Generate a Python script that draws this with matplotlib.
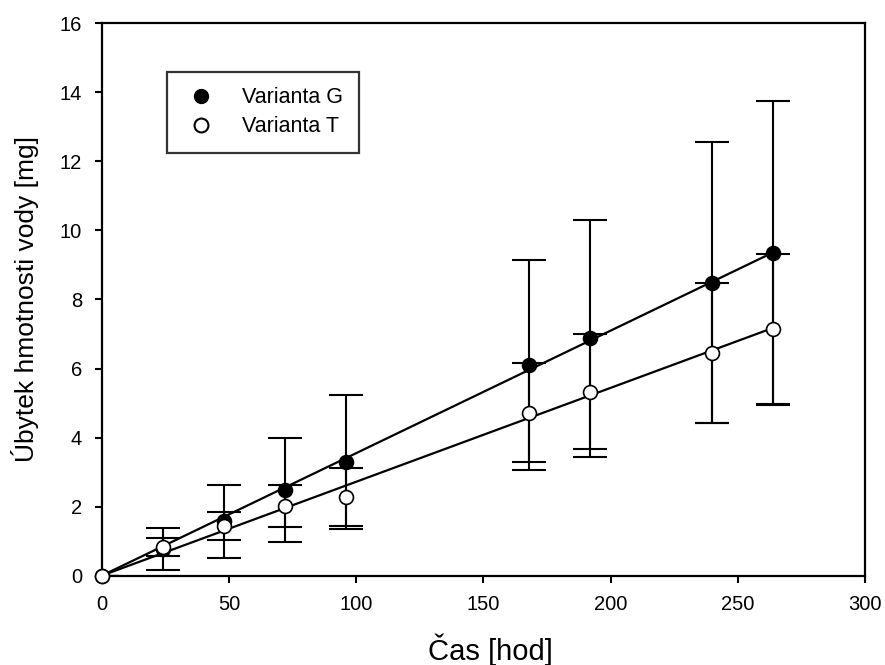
import numpy as np
import matplotlib
matplotlib.use('Agg')
import matplotlib.pyplot as plt
from matplotlib.lines import Line2D

plt.rcParams['font.family'] = ['Liberation Sans', 'DejaVu Sans']

# time [h]
cas = [0, 24, 48, 72, 96, 168, 192, 240, 264]

# Varianta G
g_mean = [0.0, 0.77, 1.57, 2.49, 3.30, 6.10, 6.87, 8.49, 9.35]
g_err = [0.0, 0.60, 1.06, 1.50, 1.94, 3.05, 3.44, 4.07, 4.40]

# Varianta T
t_mean = [0.0, 0.83, 1.44, 2.02, 2.28, 4.72, 5.33, 6.45, 7.14]
t_err = [0.0, 0.26, 0.41, 0.61, 0.83, 1.44, 1.67, 2.03, 2.17]

labels = ['Varianta G', 'Varianta T']


def fit_line(x, y):
    # linear regression through origin
    x = np.asarray(x, float)
    y = np.asarray(y, float)
    k = (x * y).sum() / (x * x).sum()
    xs = np.array([x.min(), x.max()])
    return xs, k * xs


fig = plt.figure(figsize=(8.85, 6.65), dpi=100)
ax = fig.add_axes([0.1149, 0.1343, 0.8625, 0.8307])

for mean, err in [(t_mean, t_err), (g_mean, g_err)]:
    ax.errorbar(cas, mean, yerr=err, fmt='none', ecolor='k', elinewidth=1.5,
                capsize=12, capthick=1.5, zorder=2)

for mean in [g_mean, t_mean]:
    xs, ys = fit_line(cas, mean)
    ax.plot(xs, ys, color='k', linewidth=1.6, zorder=3, clip_on=False)

ax.plot(cas, g_mean, 'o', ms=10, mfc='k', mec='k', mew=1.2, zorder=4, clip_on=False)
ax.plot(cas, t_mean, 'o', ms=10, mfc='white', mec='k', mew=1.2, zorder=5, clip_on=False)

ax.set_xlim(0, 300)
ax.set_ylim(0, 16)
ax.set_xticks(np.arange(0, 301, 50))
ax.set_yticks(np.arange(0, 17, 2))
ax.tick_params(direction='out', length=5, width=1.5, labelsize=14.5, colors='k', pad=9)
for s in ax.spines.values():
    s.set_linewidth(1.6)

ax.set_xlabel('Čas [hod]', fontsize=21)
ax.xaxis.set_label_coords(0.509, -0.105)
ax.set_ylabel('Úbytek hmotnosti vody [mg]', fontsize=19, labelpad=15)

handles = [
    Line2D([], [], ls='none', marker='o', ms=10, mfc='k', mec='k'),
    Line2D([], [], ls='none', marker='o', ms=10, mfc='white', mec='k', mew=1.5),
]
leg = ax.legend(handles, labels, loc='upper left', bbox_to_anchor=(0.085, 0.912),
                borderaxespad=0, frameon=True, fancybox=False, fontsize=15.5,
                handletextpad=1.0, borderpad=0.72, labelspacing=0.36,
                handlelength=1.8)
leg.get_frame().set_edgecolor('k')
leg.get_frame().set_linewidth(1.6)

fig.savefig('out.png', dpi=100)
